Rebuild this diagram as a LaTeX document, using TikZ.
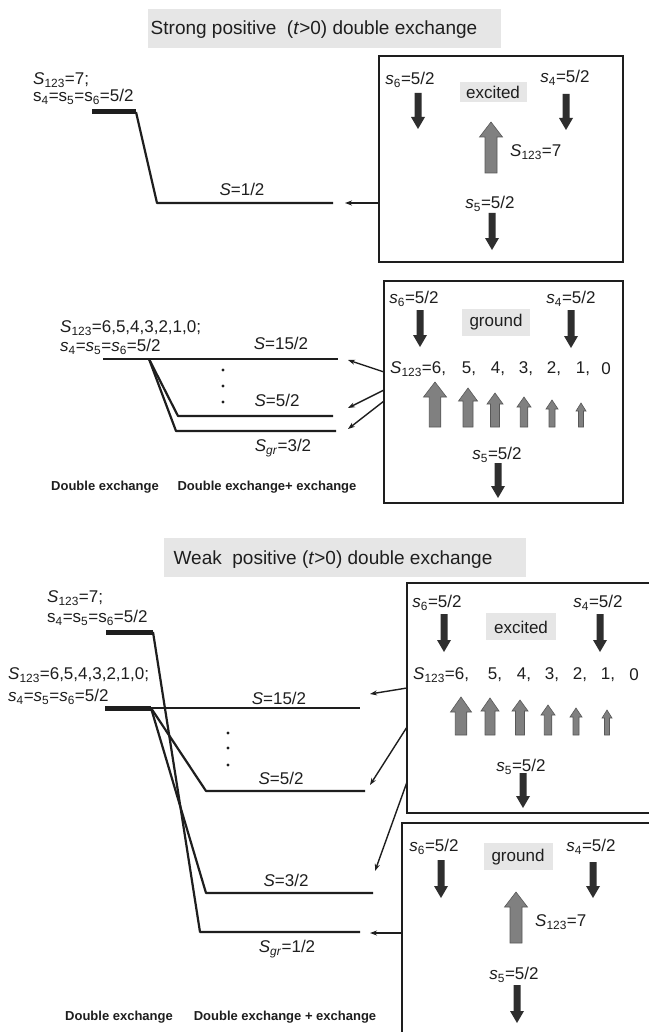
\documentclass[tikz,border=0pt]{standalone}
\usepackage{fontspec}
\setmainfont{Liberation Sans}
\usetikzlibrary{arrows.meta}
\definecolor{ink}{HTML}{1E1E1E}
\definecolor{lgray}{HTML}{E6E6E6}
\definecolor{dgray}{HTML}{2E2E2E}
\definecolor{mgray}{HTML}{808080}
\newcommand\Si[1]{\textit{S}\textsubscript{#1}}
\newcommand\si[1]{\textit{s}\textsubscript{#1}}
\newcommand\su[1]{s\textsubscript{#1}}
\newcommand\dnarr[3]{\fill[dgray] ({#1-3.5},#2) -- ({#1+3.5},#2) -- ({#1+3.5},{#3-12}) -- ({#1+7},{#3-12}) -- (#1,#3) -- ({#1-7},{#3-12}) -- ({#1-3.5},{#3-12}) -- cycle;}
\newcommand\uparr[6]{\filldraw[fill=mgray, draw=dgray!80, line width=0.6pt] ({#1-#4/2},#3) -- ({#1+#4/2},#3) -- ({#1+#4/2},{#2+#6}) -- ({#1+#5/2},{#2+#6}) -- (#1,#2) -- ({#1-#5/2},{#2+#6}) -- ({#1-#4/2},{#2+#6}) -- cycle;}
\tikzset{
 lbl/.style={font=\fontsize{17}{20}\selectfont, text=ink, inner sep=0pt},
 ttl/.style={font=\fontsize{19}{22}\selectfont, text=ink, inner sep=0pt},
 bld/.style={font=\fontsize{13}{15}\selectfont\bfseries, text=ink, inner sep=0pt},
 panel/.style={draw=ink, line width=1.8pt},
 level/.style={draw=ink, line width=2.2pt, line join=round},
 heavybar/.style={draw=ink, line width=5pt},
 conn/.style={draw=ink, line width=1.4pt, -{Stealth[length=7pt,width=5pt]}},
}
\begin{document}
\begin{tikzpicture}[x=1pt,y=-1pt]
\useasboundingbox (0,0) rectangle (648,1032);
\fill[white] (0,0) rectangle (648,1032);
% ===== strong section =====
\fill[lgray] (148,9) rectangle (501,48);
\node[ttl] (t1) at (314,30) {Strong positive\ \ (\textit{t}>0) double exchange};
\node[lbl, anchor=west] (a1) at (33,80) {\Si{123}=7;};
\node[lbl, anchor=west] (a2) at (33,97) {\su{4}=\su{5}=\su{6}=5/2};
\draw[heavybar] (92,112) -- (136,112);
\draw[level] (136,112) -- (157,203) -- (333,203);
\node[lbl] (a3) at (242,189) {\textit{S}=1/2};
\coordinate (L1) at (345,203);
\draw[panel] (379,56) rectangle (623,262);
\coordinate (B1) at (379,203);
\draw[conn] (B1) -- (L1);
\node[lbl] (b1) at (410,80) {\si{6}=5/2};
\dnarr{418}{93}{129}
\fill[lgray] (460,82) rectangle (527,102);
\node[lbl] (b2) at (493,92) {excited};
\node[lbl] (b3) at (565,78) {\si{4}=5/2};
\dnarr{566}{94}{130}
\uparr{491}{122}{173}{12}{23}{15}
\node[lbl, anchor=west] (b4) at (510,152) {\Si{123}=7};
\node[lbl] (b5) at (490,204) {\si{5}=5/2};
\dnarr{492}{213}{250}
% ground box (strong)
\draw[panel] (384,281) rectangle (623,503);
\node[lbl] (c1) at (414,299) {\si{6}=5/2};
\dnarr{420}{310}{347}
\fill[lgray] (462,309) rectangle (530,336);
\node[lbl] (c2) at (496,322) {ground};
\node[lbl] (c3) at (571,299) {\si{4}=5/2};
\dnarr{571}{310}{348}
\node[lbl, anchor=west] (r0) at (390,369) {\Si{123}=6,};
\node[lbl] (r1) at (469,369) {5,};
\node[lbl] (r2) at (498,369) {4,};
\node[lbl] (r3) at (526,369) {3,};
\node[lbl] (r4) at (554,369) {2,};
\node[lbl] (r5) at (583,369) {1,};
\node[lbl] (r6) at (606,369) {0};
\uparr{435}{382}{427}{11.5}{23}{15}
\uparr{468}{388}{427}{10}{19}{13}
\uparr{495}{393}{427}{9}{16}{11}
\uparr{524}{397}{427}{7.5}{14}{10}
\uparr{552}{400}{427}{6}{12}{9}
\uparr{581}{403}{427}{5}{10}{8}
\node[lbl] (c4) at (497,455) {\si{5}=5/2};
\dnarr{498}{463}{498}
\node[lbl, anchor=west] (d1) at (60,328) {\Si{123}=6,5,4,3,2,1,0;};
\node[lbl, anchor=west] (d2) at (60,347) {\si{4}=\si{5}=\si{6}=5/2};
\draw[level] (103,359) -- (338,359);
\draw[level] (149,359) -- (178,416) -- (333,416);
\draw[level] (149,359) -- (176,431) -- (336,431);
\foreach \yy in {370,386,402} \fill[ink] (223,\yy) circle (1.7);
\node[lbl] (d3) at (281,343) {\textit{S}=15/2};
\node[lbl] (d4) at (277,400) {\textit{S}=5/2};
\node[lbl] (d5) at (283,448) {\textit{S}\textsubscript{\textit{gr}}=3/2};
\coordinate (G1) at (384,372); \coordinate (E1) at (348,360);
\coordinate (G2) at (384,390); \coordinate (E2) at (348,408);
\coordinate (G3) at (384,401); \coordinate (E3) at (348,429);
\draw[conn] (G1) -- (E1);
\draw[conn] (G2) -- (E2);
\draw[conn] (G3) -- (E3);
\node[bld] (e1) at (105,487) {Double exchange};
\node[bld] (e2) at (267,487) {Double exchange+ exchange};
% ===== weak section =====
\fill[lgray] (164,538) rectangle (526,577);
\node[ttl] (t2) at (333,560) {Weak\ \ positive (\textit{t}>0) double exchange};
\node[lbl, anchor=west] (f1) at (47,598) {\Si{123}=7;};
\node[lbl, anchor=west] (f2) at (47,618) {\su{4}=\su{5}=\su{6}=5/2};
\draw[heavybar] (106,632) -- (153,632);
\draw[level] (153,632) -- (200,932) -- (360,932);
\node[lbl, anchor=west] (f3) at (8,675) {\Si{123}=6,5,4,3,2,1,0;};
\node[lbl, anchor=west] (f4) at (8,697) {\si{4}=\si{5}=\si{6}=5/2};
\draw[heavybar] (105,708) -- (151,708);
\draw[level] (151,708) -- (360,708);
\draw[level] (151,708) -- (206,791) -- (365,791);
\draw[level] (151,708) -- (206,893) -- (373,893);
\foreach \yy in {733,748,765} \fill[ink] (228,\yy) circle (1.7);
\node[lbl] (g1) at (279,698) {\textit{S}=15/2};
\node[lbl] (g2) at (281,778) {\textit{S}=5/2};
\node[lbl] (g3) at (286,880) {\textit{S}=3/2};
\node[lbl] (g4) at (287,949) {\textit{S}\textsubscript{\textit{gr}}=1/2};
% excited box (weak)
\draw[panel] (652,583) -- (407,583) -- (407,813) -- (652,813);
\node[lbl] (h1) at (437,603) {\si{6}=5/2};
\dnarr{444}{614}{652}
\fill[lgray] (486,613) rectangle (556,640);
\node[lbl] (h2) at (521,627) {excited};
\node[lbl] (h3) at (598,603) {\si{4}=5/2};
\dnarr{600}{614}{652}
\node[lbl, anchor=west] (q0) at (413,675) {\Si{123}=6,};
\node[lbl] (q1) at (495,675) {5,};
\node[lbl] (q2) at (524,675) {4,};
\node[lbl] (q3) at (552,675) {3,};
\node[lbl] (q4) at (580,675) {2,};
\node[lbl] (q5) at (608,675) {1,};
\node[lbl] (q6) at (634,675) {0};
\uparr{461}{697}{735}{11.5}{21}{15}
\uparr{490}{698}{735}{10}{18}{13}
\uparr{520}{700}{735}{9}{16}{11}
\uparr{548}{705}{735}{7.5}{14}{10}
\uparr{576}{708}{735}{6}{12}{9}
\uparr{607}{710}{735}{5}{10}{8}
\node[lbl] (h4) at (521,767) {\si{5}=5/2};
\dnarr{523}{773}{808}
% ground box (weak)
\draw[panel] (652,823) -- (402,823) -- (402,1040);
\node[lbl] (k1) at (434,847) {\si{6}=5/2};
\dnarr{441}{860}{898}
\fill[lgray] (484,843) rectangle (553,870);
\node[lbl] (k2) at (518,857) {ground};
\node[lbl] (k3) at (591,847) {\si{4}=5/2};
\dnarr{593}{862}{898}
\uparr{516}{892}{943}{12}{23}{15}
\node[lbl, anchor=west] (k4) at (535,922) {\Si{123}=7};
\node[lbl] (k5) at (514,975) {\si{5}=5/2};
\dnarr{517}{985}{1023}
\coordinate (X1) at (407,688); \coordinate (Y1) at (370,694);
\coordinate (X2) at (407,727); \coordinate (Y2) at (370,785);
\coordinate (X3) at (407,782); \coordinate (Y3) at (375,871);
\coordinate (X4) at (402,933); \coordinate (Y4) at (370,933);
\draw[conn] (X1) -- (Y1);
\draw[conn] (X2) -- (Y2);
\draw[conn] (X3) -- (Y3);
\draw[conn] (X4) -- (Y4);
\node[bld] (m1) at (119,1017) {Double exchange};
\node[bld] (m2) at (285,1017) {Double exchange + exchange};
\end{tikzpicture}
\end{document}
